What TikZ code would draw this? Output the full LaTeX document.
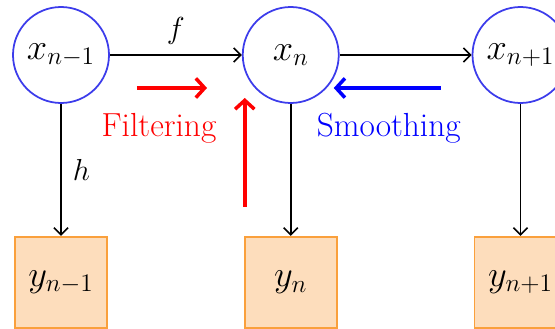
\documentclass[tikz,border=0pt]{standalone}
\usepackage{amsmath}
\usepackage{tikz}
\usetikzlibrary{arrows.meta,positioning,calc}
\definecolor{statecol}{RGB}{60,60,235}
\definecolor{obsfill}{RGB}{253,221,188}
\definecolor{obsline}{RGB}{250,160,60}

\begin{document}
\begin{tikzpicture}[
    node distance=2.64cm,
    font=\fontsize{19}{22}\selectfont,
    state/.style={circle, draw=statecol, line width=1pt, minimum size=1.92cm, inner sep=0pt, font=\fontsize{22}{26}\selectfont},
    obs/.style={rectangle, draw=obsline, fill=obsfill, line width=1pt, minimum width=1.84cm, minimum height=1.82cm, inner sep=0pt, font=\fontsize{22}{26}\selectfont},
    arrow/.style={-{Straight Barb[length=4pt,width=8pt]}, line width=0.9pt},
    pass/.style={-{Straight Barb[length=5pt,width=11pt]}, line width=2pt},
]
    \useasboundingbox (-1.22,1.1) rectangle (9.88,-5.48);

    \node[state] (xprev) {$x_{n-1}$};
    \node[state, right=of xprev] (xcur) {$x_n$};
    \node[state, right=of xcur] (xnext) {$x_{n+1}$};

    \node[obs, below=of xprev] (yprev) {$y_{n-1}$};
    \node[obs, below=of xcur] (ycur) {$y_n$};
    \node[obs, below=of xnext] (ynext) {$y_{n+1}$};

    % forward / backward pass markers
    \coordinate (filtA) at ($(xprev)+(1.52,-0.66)$);
    \coordinate (filtB) at ($(xprev)+(2.92,-0.66)$);
    \coordinate (filtC) at ($(xcur)+(-0.92,-3.04)$);
    \coordinate (filtD) at ($(xcur)+(-0.92,-0.86)$);
    \coordinate (smthA) at ($(xcur)+(3.0,-0.66)$);
    \coordinate (smthB) at ($(xcur)+(0.86,-0.66)$);

    \node[text=red] (filt) at ($(xprev)+(1.96,-1.46)$) {Filtering};
    \node[text=blue] (smth) at ($(xcur)+(1.96,-1.46)$) {Smoothing};

    \draw[arrow] (xprev) -- node[above=2pt] {$f$} (xcur);
    \draw[arrow] (xcur) -- (xnext);
    \draw[arrow] (xprev) -- node[right=3pt] {$h$} (yprev);
    \draw[arrow] (xcur) -- (ycur);
    \draw[arrow] (xnext) -- (ynext);

    \draw[pass, red] (filtA) -- (filtB);
    \draw[pass, red] (filtC) -- (filtD);
    \draw[pass, blue] (smthA) -- (smthB);
\end{tikzpicture}
\end{document}
